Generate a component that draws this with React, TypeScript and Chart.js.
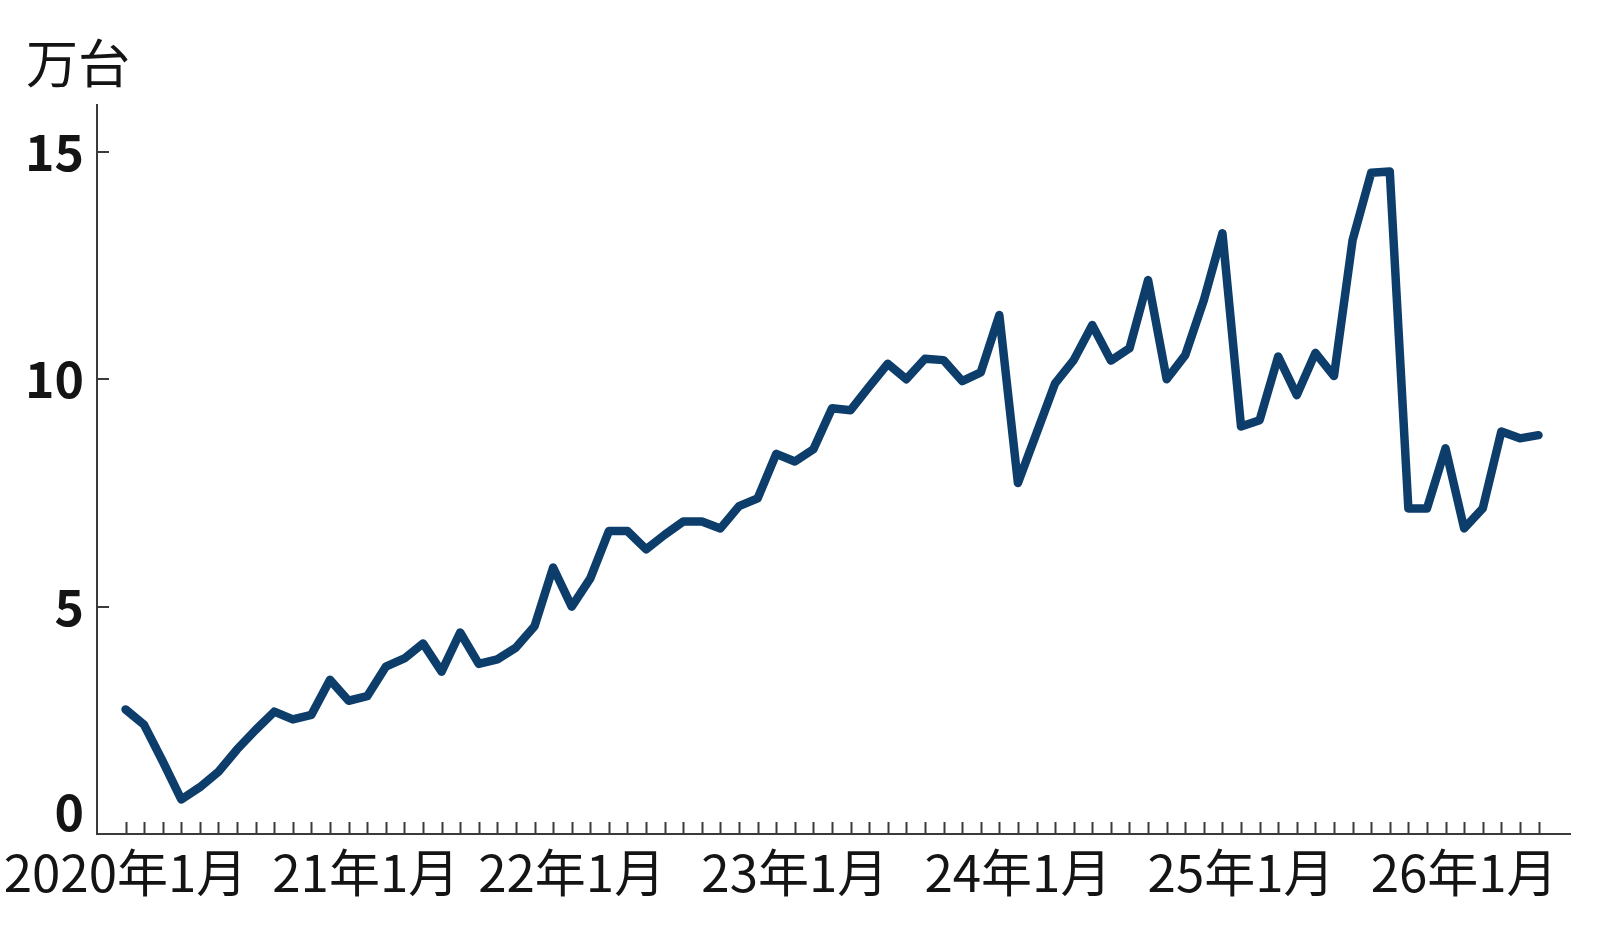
import { useEffect, useRef } from 'react';
import { Chart, registerables } from 'chart.js';

Chart.register(...registerables);

// Monthly categories: 2020年1月 … 2026年5月 (77 months)
const startYear = 2020;
const monthCount = 77;
const categories: string[] = [];
for (let i = 0; i < monthCount; i++) {
  const y = startYear + Math.floor(i / 12);
  const m = (i % 12) + 1;
  categories.push(`${y}年${m}月`);
}

// Values in 万台
const values: number[] = [
  2.74, 2.40, 1.60, 0.76, 1.03, 1.37, 1.86, 2.29, 2.69, 2.52, 2.62, 3.39,
  2.93, 3.03, 3.68, 3.86, 4.19, 3.57, 4.43, 3.74, 3.84, 4.10, 4.57, 5.86,
  5.00, 5.62, 6.66, 6.66, 6.26, 6.58, 6.87, 6.87, 6.72, 7.21, 7.38, 8.36,
  8.19, 8.46, 9.36, 9.32, 9.84, 10.34, 10.00, 10.45, 10.42, 9.96, 10.15, 11.41,
  7.72, 8.81, 9.91, 10.42, 11.19, 10.41, 10.68, 12.18, 10.00, 10.53, 11.74, 13.21,
  8.96, 9.10, 10.50, 9.65, 10.58, 10.07, 13.06, 14.54, 14.57, 7.16, 7.16, 8.48,
  6.72, 7.16, 8.85, 8.70, 8.77,
];

const xTickIndices: number[] = [0, 12, 24, 36, 48, 60, 72];
const xTickLabels: string[] = ['2020年1月', '21年1月', '22年1月', '23年1月', '24年1月', '25年1月', '26年1月'];
const yTickValues: number[] = [0, 5, 10, 15];
const unitLabel = '万台';

const FONT = '"Noto Sans CJK JP", "Noto Sans", sans-serif';
const AXIS_COLOR = '#3a3a3a';
const TEXT_COLOR = '#141414';
const LINE_COLOR = '#0d3e6b';

const tickMarksPlugin = {
  id: 'innerTicks',
  afterDraw(chart: any) {
    const { ctx, chartArea, scales } = chart;
    const x = scales.x;
    const y = scales.y;
    ctx.save();
    ctx.strokeStyle = AXIS_COLOR;
    ctx.lineWidth = 2;
    ctx.beginPath();
    x.ticks.forEach((t: any) => {
      const px = Math.round(x.getPixelForValue(t.value)) + 0.5;
      ctx.moveTo(px, chartArea.bottom);
      ctx.lineTo(px, chartArea.bottom - 12);
    });
    y.ticks.forEach((t: any) => {
      if (t.value === 0) return;
      const py = Math.round(y.getPixelForValue(t.value));
      ctx.moveTo(chartArea.left, py);
      ctx.lineTo(chartArea.left + 12, py);
    });
    ctx.stroke();

    ctx.font = `52px ${FONT}`;
    ctx.fillStyle = TEXT_COLOR;
    ctx.textAlign = 'left';
    ctx.textBaseline = 'alphabetic';
    ctx.fillText(unitLabel, 26, 83);
    ctx.restore();
  },
};

export default function App() {
  const canvasRef = useRef<HTMLCanvasElement | null>(null);

  useEffect(() => {
    const canvas = canvasRef.current;
    if (!canvas) return;
    const chart = new Chart(canvas, {
      type: 'line',
      data: {
        datasets: [
          {
            label: '台数',
            data: values.map((v, i) => ({ x: i, y: v })),
            borderColor: LINE_COLOR,
            borderWidth: 8.5,
            pointRadius: 0,
            tension: 0,
            borderJoinStyle: 'round',
            borderCapStyle: 'round',
            fill: false,
          },
        ],
      },
      options: {
        responsive: false,
        animation: false,
        devicePixelRatio: 1,
        layout: { padding: { top: 105, right: 30, left: 0, bottom: 0 } },
        plugins: {
          legend: { display: false },
          tooltip: { enabled: false },
          title: { display: false },
        },
        scales: {
          x: {
            type: 'linear',
            min: -1.533,
            max: 77.694,
            afterBuildTicks: (s: any) => {
              s.ticks = categories.map((_, i) => ({ value: i }));
            },
            afterFit: (s: any) => {
              s.height = 94;
              s.paddingLeft = 0;
              s.paddingRight = 0;
            },
            grid: { display: false, drawTicks: false },
            border: { display: true, color: AXIS_COLOR, width: 2 },
            ticks: {
              autoSkip: false,
              maxRotation: 0,
              minRotation: 0,
              padding: 8,
              color: TEXT_COLOR,
              font: { family: FONT, size: 51 },
              callback: (v: any) => {
                const k = xTickIndices.indexOf(Number(v));
                if (k < 0) return '';
                return k === 1 ? '   ' + xTickLabels[k] : xTickLabels[k];
              },
            },
          },
          y: {
            type: 'linear',
            min: 0,
            max: 16.03,
            afterBuildTicks: (s: any) => {
              s.ticks = yTickValues.map((v) => ({ value: v }));
            },
            afterFit: (s: any) => {
              s.width = 97;
              s.paddingTop = 0;
              s.paddingBottom = 0;
            },
            grid: { display: false, drawTicks: false },
            border: { display: true, color: AXIS_COLOR, width: 2 },
            ticks: {
              padding: 13,
              color: TEXT_COLOR,
              font: { family: FONT, size: 50, weight: 'bold', lineHeight: 0.9 },
              callback: (v: any) => (Number(v) === 0 ? ['0', ''] : String(v)),
            },
          },
        },
      },
      plugins: [tickMarksPlugin],
    } as any);
    return () => chart.destroy();
  }, []);

  return (
    <div style={{ position: 'fixed', left: 0, top: 0, width: 1600, height: 928, background: '#ffffff' }}>
      <canvas ref={canvasRef} width={1600} height={928} style={{ display: 'block' }} />
    </div>
  );
}
